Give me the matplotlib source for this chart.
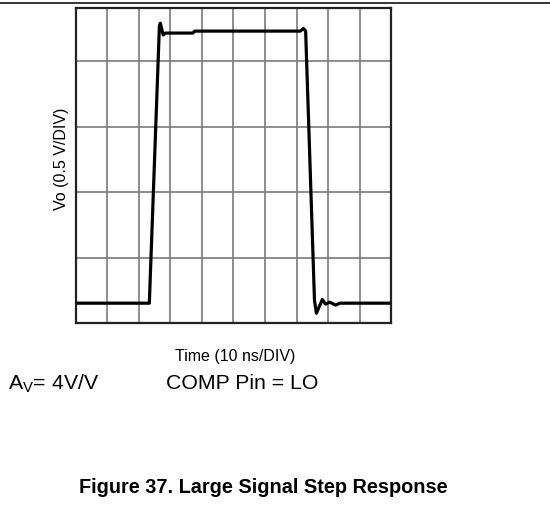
import numpy as np
import matplotlib
matplotlib.use("Agg")
import matplotlib.pyplot as plt
from matplotlib.lines import Line2D

plt.rcParams['font.family'] = ['Liberation Sans', 'DejaVu Sans']
plt.rcParams['mathtext.fontset'] = 'custom'
plt.rcParams['mathtext.rm'] = 'Liberation Sans'

# scope trace, time in ns and output in V (10 ns/DIV, 0.5 V/DIV)
t_ns = [0, 23.3, 26.5, 26.8, 27.7, 28.4, 37.1, 37.7, 71.2, 72.2, 72.9,
        75.7, 76.3, 78.2, 79.2, 80.5, 82.4, 83.7, 100]
vo = [0.152, 0.152, 2.27, 2.29, 2.20, 2.215, 2.215, 2.23, 2.23, 2.25, 2.23,
      0.175, 0.075, 0.18, 0.145, 0.16, 0.137, 0.152, 0.152]

ns_div = 10
v_div = 0.5

fig = plt.figure(figsize=(5.5, 5.12), dpi=100)
ax = fig.add_axes([0.138, 0.369, 0.573, 0.615])

# graticule
for k in range(1, 10):
    ax.axvline(k * ns_div, color='#7a7a7a', lw=1.2, zorder=1)
for k in range(1, 5):
    ax.axhline(k * v_div, color='#7a7a7a', lw=1.2, zorder=1)

ax.plot(t_ns, vo, color='black', lw=2.3, solid_joinstyle='round', zorder=3)

ax.set_xlim(0, 10 * ns_div)
ax.set_ylim(0, 4.81 * v_div)
ax.set_xticks([])
ax.set_yticks([])
for s in ax.spines.values():
    s.set_linewidth(1.6)
    s.set_color('#222222')

# rule across the top of the page
fig.add_artist(Line2D([0, 1], [1 - 3 / 512, 1 - 3 / 512], color='black', lw=1.1))

fig.text(0.111, 0.69, "Vo (0.5 V/DIV)", rotation=90, ha='center', va='center', fontsize=11.5)
fig.text(0.427, 0.303, "Time (10 ns/DIV)", ha='center', va='center', fontsize=11.5)
fig.text(0.0145, 0.251, r"A$_\mathrm{V}$= 4V/V", ha='left', va='center', fontsize=15.3)
fig.text(0.302, 0.251, "COMP Pin = LO", ha='left', va='center', fontsize=15.3)
fig.text(0.479, 0.047, "Figure 37. Large Signal Step Response", ha='center', va='center',
         fontsize=14.3, fontweight='bold')

fig.savefig("out.png", dpi=100)
